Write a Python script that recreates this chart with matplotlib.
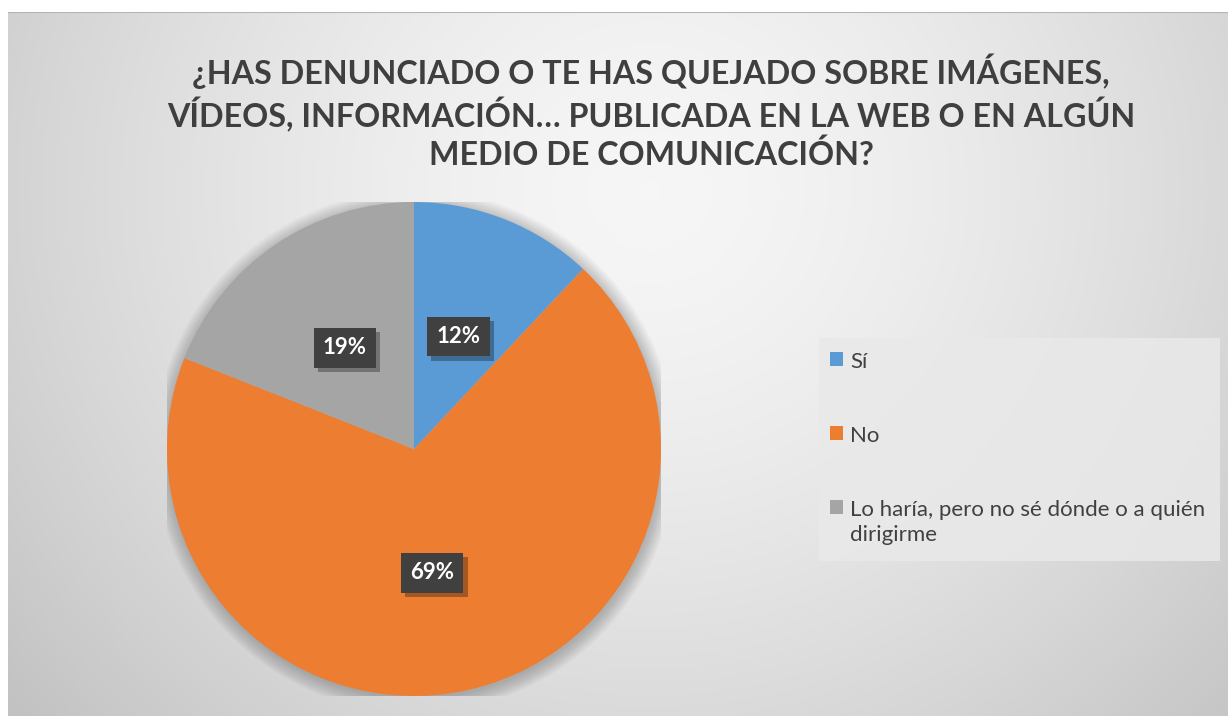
import numpy as np
import matplotlib
matplotlib.use("Agg")
import matplotlib.pyplot as plt
import matplotlib.patheffects as pe
from matplotlib.patches import Patch, Rectangle, Circle

# data
categories = ["Sí", "No", "Lo haría, pero no sé dónde o a quién\ndirigirme"]
shares = [12, 69, 19]
colors = ["#5B9BD5", "#ED7D31", "#A5A5A5"]
label_pos = [(0.18, 0.455), (0.073, -0.502), (-0.28, 0.41)]
title = ("¿HAS DENUNCIADO O TE HAS QUEJADO SOBRE IMÁGENES,\n"
         "VÍDEOS, INFORMACIÓN… PUBLICADA EN LA WEB O EN ALGÚN\n"
         "MEDIO DE COMUNICACIÓN?")

W, H = 1228, 716
plt.rcParams['font.family'] = ['Lato', 'DejaVu Sans']
fig = plt.figure(figsize=(W / 100, H / 100), dpi=100)

# radial gradient background of the chart area
bg = fig.add_axes([8 / W, 0, (W - 8) / W, (H - 12) / H])
xx, yy = np.meshgrid(np.arange(8, W), np.arange(12, H))
d = np.hypot(xx - 650, (yy - 190) * 1.05)
v = np.clip(0.965 - 0.19 * (d / 800) ** 1.5, 0, 1)
bg.imshow(np.dstack([v, v, v]), aspect='auto', extent=(0, 1, 0, 1), origin='upper')
bg.axhline(1, color="#B4B4B4", lw=1.5)
bg.set_axis_off()

# pie
r = 247
cx, cy = 414, 449
ax = fig.add_axes([(cx - r) / W, (H - cy - r) / H, 2 * r / W, 2 * r / H])
for i in range(14):
    ax.add_patch(Circle((0.005, -0.01), 1.0 + 0.0045 * i, color="k",
                        alpha=0.016, lw=0, zorder=0))
wedges, _ = ax.pie(shares, colors=colors, startangle=90, counterclock=False,
                   wedgeprops=dict(linewidth=0))
for w in wedges:
    w.set_zorder(2)
ax.set_xlim(-1, 1)
ax.set_ylim(-1, 1)

for s, (lx, ly) in zip(shares, label_pos):
    t = ax.text(lx, ly, f"{s}%", ha="center", va="center", fontsize=16,
                fontweight="bold", color="white", zorder=4,
                bbox=dict(boxstyle="square,pad=0.42", fc="#404040", ec="none"))
    t.get_bbox_patch().set_path_effects(
        [pe.SimplePatchShadow(offset=(3, -3), shadow_rgbFace="black", alpha=0.3),
         pe.Normal()])

# title
fig.text(651 / W, 1 - 112 / H, title, ha="center", va="center", fontsize=23.2,
         fontweight="bold", color="#3F3F3F", linespacing=1.27)

# legend
fig.patches.append(Rectangle((819 / W, 1 - 561 / H), 401 / W, 223 / H,
                             transform=fig.transFigure, fc="#E9E9E9", ec="none",
                             alpha=0.85, zorder=1))
handles = [Patch(fc=c, ec="none") for c in colors]
leg = fig.legend(handles, categories, loc="upper left",
                 bbox_to_anchor=(830 / W, 1 - 352 / H), frameon=False,
                 fontsize=16, handlelength=0.6, handleheight=0.6,
                 handletextpad=0.3, labelspacing=2.42, borderaxespad=0,
                 borderpad=0)
for t in leg.get_texts():
    t.set_color("#404040")
    t.set_linespacing(1.35)
# keep the marker of the two-line entry on its first line, as Excel does
for col in leg._legend_handle_box.get_children():
    for item in col.get_children():
        item.align = "top"

fig.savefig("out.png", dpi=100)
